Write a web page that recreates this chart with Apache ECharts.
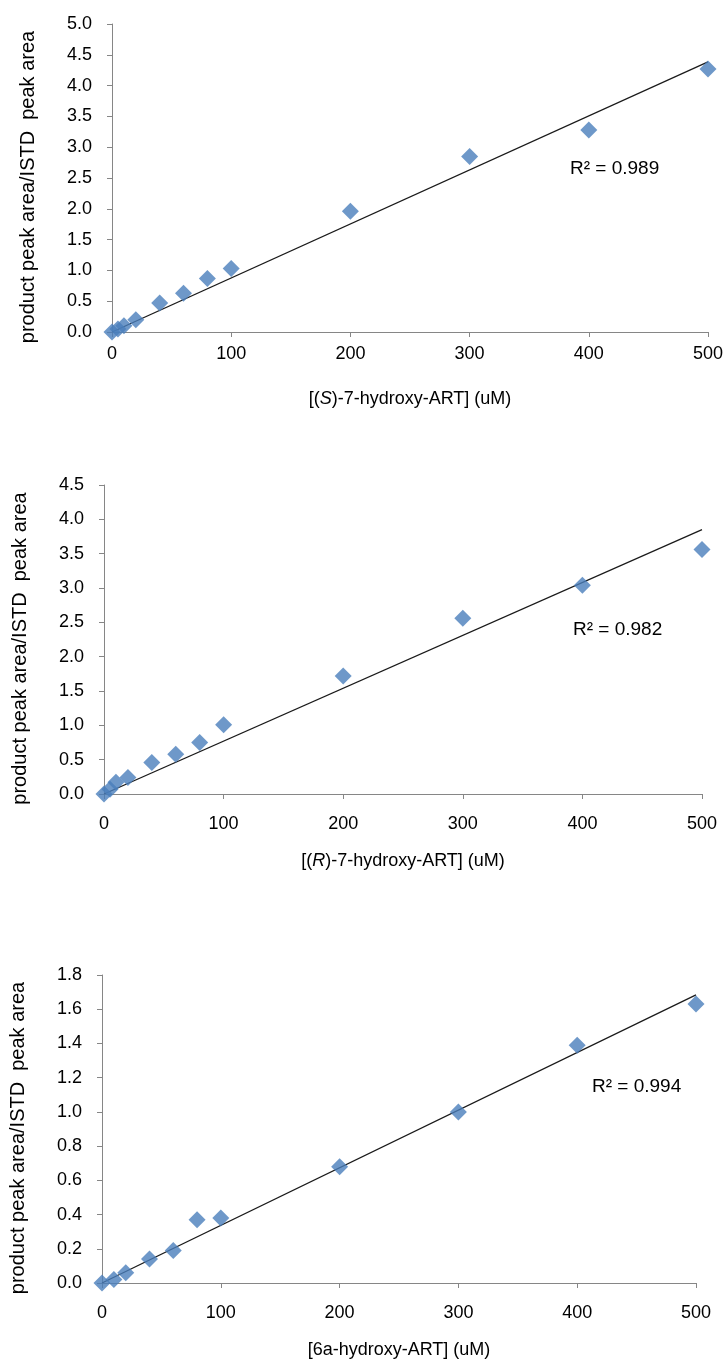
<!DOCTYPE html>
<html>
<head>
<meta charset="utf-8">
<script src="https://cdn.jsdelivr.net/npm/echarts@6/dist/echarts.min.js"></script>
<style>
  html, body { margin: 0; padding: 0; background: #fff; }
  #chart { width: 728px; height: 1366px; }
</style>
</head>
<body>
<div id="chart"></div>
<script>
// concentrations (uM)
const concA = [0, 5, 10, 20, 40, 60, 80, 100, 200, 300, 400, 500];
const concB = [0, 10, 20, 40, 60, 80, 100, 200, 300, 400, 500];

// product peak area / ISTD peak area
const ratioS = [0.0, 0.05, 0.1, 0.2, 0.47, 0.63, 0.87, 1.03, 1.96, 2.85, 3.28, 4.27];
const ratioR = [0.0, 0.07, 0.17, 0.24, 0.46, 0.58, 0.75, 1.01, 1.72, 2.56, 3.04, 3.56];
const ratio6a = [0.0, 0.02, 0.06, 0.14, 0.19, 0.37, 0.38, 0.68, 1.0, 1.39, 1.63];

const r2Labels = ['R² = 0.989', 'R² = 0.982', 'R² = 0.994'];
const xNames = ['[({i|S})-7-hydroxy-ART] (uM)', '[({i|R})-7-hydroxy-ART] (uM)', '[6a-hydroxy-ART] (uM)'];
const yName = 'product peak area/ISTD  peak area';

const FONT = '"Liberation Sans", Arial, sans-serif';
const AXIS_GRAY = '#868686';
const BLUE = '#4a7ebb';

// least squares line through the origin (Excel trendline, intercept = 0)
function fitThroughOrigin(xs, ys) {
  let sxy = 0, sxx = 0;
  xs.forEach((x, i) => { sxy += x * ys[i]; sxx += x * x; });
  const k = sxy / sxx;
  const xMax = Math.max(...xs);
  return [[0, 0], [xMax, k * xMax]];
}

const panels = [
  { x: concA, y: ratioS, max: 5, step: 0.5, grid: { left: 112, right: 20, top: 24, height: 308 }, r2: { left: 570, top: 159 }, xMargin: 13 },
  { x: concA, y: ratioR, max: 4.5, step: 0.5, grid: { left: 104, right: 26, top: 485, height: 309 }, r2: { left: 573, top: 620 }, xMargin: 21 },
  { x: concB, y: ratio6a, max: 1.8, step: 0.2, grid: { left: 99, right: 32, top: 975, height: 308 }, r2: { left: 592, top: 1077 }, xMargin: 21 }
];

const chart = echarts.init(document.getElementById('chart'));

const option = {
  animation: false,
  backgroundColor: '#fff',
  textStyle: { fontFamily: FONT },
  grid: panels.map(p => p.grid),
  xAxis: panels.map((p, i) => ({
    type: 'value',
    gridIndex: i,
    min: 0,
    max: 500,
    interval: 100,
    name: xNames[i],
    nameLocation: 'middle',
    nameGap: 58,
    nameTextStyle: {
      fontFamily: FONT, fontSize: 18, color: '#000',
      rich: { i: { fontFamily: FONT, fontSize: 18, color: '#000', fontStyle: 'italic' } }
    },
    axisLine: { show: true, lineStyle: { color: AXIS_GRAY, width: 1 } },
    axisTick: { show: true, inside: false, length: 5, lineStyle: { color: AXIS_GRAY } },
    axisLabel: { fontFamily: FONT, fontSize: 18, color: '#000', margin: p.xMargin },
    splitLine: { show: false }
  })),
  yAxis: panels.map((p, i) => ({
    type: 'value',
    gridIndex: i,
    min: 0,
    max: p.max,
    interval: p.step,
    name: yName,
    nameLocation: 'middle',
    nameGap: 74,
    nameTextStyle: { fontFamily: FONT, fontSize: 20, color: '#000', padding: [0, 18, 0, 0] },
    axisLine: { show: true, lineStyle: { color: AXIS_GRAY, width: 1 } },
    axisTick: { show: true, inside: false, length: 5, lineStyle: { color: AXIS_GRAY } },
    axisLabel: { fontFamily: FONT, fontSize: 18, color: '#000', margin: 20, formatter: v => v.toFixed(1) },
    splitLine: { show: false }
  })),
  series: []
};

panels.forEach((p, i) => {
  option.series.push({
    type: 'line',
    xAxisIndex: i,
    yAxisIndex: i,
    data: fitThroughOrigin(p.x, p.y),
    showSymbol: false,
    symbol: 'none',
    lineStyle: { color: '#1a1a1a', width: 1.3 },
    z: 2
  });
  option.series.push({
    type: 'scatter',
    xAxisIndex: i,
    yAxisIndex: i,
    data: p.x.map((x, j) => [x, p.y[j]]),
    symbol: 'diamond',
    symbolSize: [17, 17],
    itemStyle: { color: BLUE },
    z: 3
  });
});

option.graphic = panels.map((p, i) => ({
  type: 'text',
  left: p.r2.left,
  top: p.r2.top,
  style: { text: r2Labels[i], fontFamily: FONT, fontSize: 19, fill: '#000' }
}));

chart.setOption(option);
</script>
</body>
</html>
